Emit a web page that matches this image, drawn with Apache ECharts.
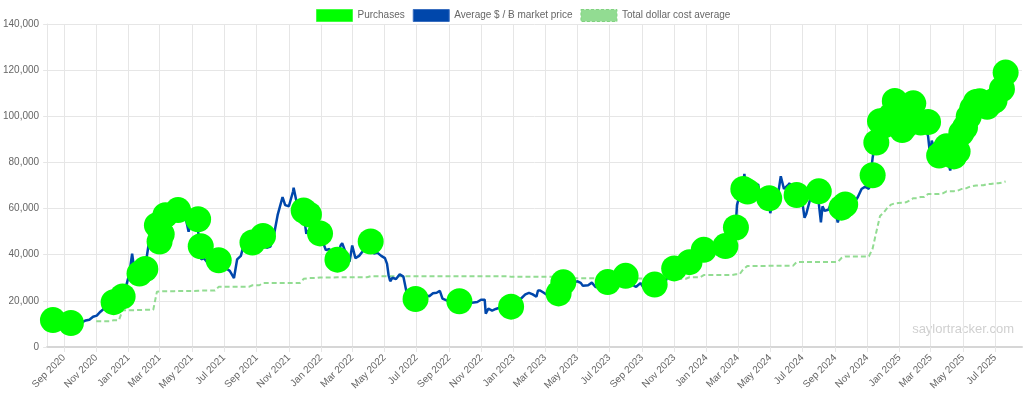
<!DOCTYPE html>
<html>
<head>
<meta charset="utf-8">
<script src="https://cdn.jsdelivr.net/npm/echarts@6/dist/echarts.min.js"></script>
<style>
  html, body { margin: 0; padding: 0; background: #fff; }
  #chart { width: 1024px; height: 398px; }
</style>
</head>
<body>
<div id="chart"></div>
<script>
// x axis ticks, every two months
var tickMonths = ['2020-09-01','2020-11-01','2021-01-01','2021-03-01','2021-05-01','2021-07-01','2021-09-01','2021-11-01',
  '2022-01-01','2022-03-01','2022-05-01','2022-07-01','2022-09-01','2022-11-01','2023-01-01','2023-03-01','2023-05-01',
  '2023-07-01','2023-09-01','2023-11-01','2024-01-01','2024-03-01','2024-05-01','2024-07-01','2024-09-01','2024-11-01',
  '2025-01-01','2025-03-01','2025-05-01','2025-07-01'];

// purchases (date, average price paid)
var purchaseDates = ['2020-08-11','2020-09-14','2020-12-04','2020-12-21','2021-01-22','2021-02-02','2021-02-24','2021-03-01',
  '2021-03-05','2021-03-12','2021-04-05','2021-05-13','2021-05-18','2021-06-21','2021-08-24','2021-09-13','2021-11-29',
  '2021-12-09','2021-12-30','2022-02-01','2022-04-05','2022-06-29','2022-09-20','2022-12-27','2023-03-27','2023-04-05',
  '2023-06-28','2023-08-01','2023-09-25','2023-11-01','2023-11-30','2023-12-27','2024-02-06','2024-02-26','2024-03-11',
  '2024-03-19','2024-04-29','2024-06-20','2024-08-01','2024-09-13','2024-09-20','2024-11-11','2024-11-18','2024-11-25',
  '2024-12-02','2024-12-09','2024-12-16','2024-12-23','2024-12-30','2025-01-06','2025-01-13','2025-01-21','2025-01-27',
  '2025-02-10','2025-02-24','2025-03-17','2025-03-24','2025-03-31','2025-04-14','2025-04-21','2025-04-28','2025-05-05',
  '2025-05-12','2025-05-19','2025-05-26','2025-06-02','2025-06-09','2025-06-16','2025-06-23','2025-06-30','2025-07-14',
  '2025-07-21'];
var purchasePrices = [11652,10419,19427,21925,31808,33808,52765,45710,
  48888,57146,59339,55387,43663,37617,45294,48099,59187,
  57477,49229,37865,45714,20817,19851,17500,23238,28016,
  28136,30835,27053,34074,36785,42110,43723,51813,68477,
  67382,64500,65883,67455,60408,61750,74463,88627,97862,
  95976,98783,100386,106662,97837,94004,95972,101191,105596,
  97255,97514,82981,84529,86969,82618,84785,92737,95167,
  99856,103498,106237,106495,105426,104080,105856,106801,111827,
  118940];

// total dollar cost average (changes at each purchase)
var costDates = ['2020-11-01','2020-12-04','2020-12-21','2021-01-22','2021-02-02','2021-02-24','2021-03-01','2021-03-05',
  '2021-03-12','2021-04-05','2021-05-13','2021-05-18','2021-06-21','2021-08-24','2021-09-13','2021-11-29','2021-12-09',
  '2021-12-30','2022-02-01','2022-04-05','2022-06-29','2022-09-20','2022-12-28','2023-03-27','2023-04-05','2023-06-28',
  '2023-08-01','2023-09-25','2023-11-01','2023-11-30','2023-12-27','2024-02-06','2024-02-26','2024-03-11','2024-03-19',
  '2024-04-29','2024-06-20','2024-08-01','2024-09-13','2024-09-20','2024-11-11','2024-11-18','2024-11-25','2024-12-02',
  '2024-12-09','2024-12-16','2024-12-23','2024-12-30','2025-01-06','2025-01-13','2025-01-21','2025-01-27','2025-02-10',
  '2025-02-24','2025-03-17','2025-03-24','2025-03-31','2025-04-14','2025-04-21','2025-04-28','2025-05-05','2025-05-12',
  '2025-05-19','2025-05-26','2025-06-02','2025-06-09','2025-06-16','2025-06-23','2025-06-30','2025-07-14','2025-07-21'];
var costValues = [11111,11624,15964,16035,16109,23985,24063,24119,
  24214,24311,24403,24450,26080,26769,27713,29534,29861,
  30159,30200,30700,30664,30639,30397,29817,29803,29668,
  29672,29582,29586,30252,31168,31224,31544,33706,35160,
  35180,36798,36821,38585,39266,42692,49874,56761,58263,
  60324,61725,62257,62428,62503,62691,63610,64511,65033,
  66357,66360,66608,67458,67556,67766,68459,68550,69287,
  69726,70023,70055,70086,70666,70681,70982,71268,71756];

// average market price
var price2020 = [['2020-08-11',11400],['2020-08-17',12000],['2020-08-24',11700],['2020-08-31',11900],['2020-09-04',10400],
  ['2020-09-14',10700],['2020-09-21',10500],['2020-09-28',10800],['2020-10-05',10700],['2020-10-12',11500],['2020-10-19',11800],
  ['2020-10-26',13100],['2020-11-02',13600],['2020-11-09',15300],['2020-11-16',16700],['2020-11-23',18400],['2020-11-26',17100],
  ['2020-11-30',18800],['2020-12-07',19100],['2020-12-14',19300],['2020-12-17',22800],['2020-12-21',23500],['2020-12-28',26700]];
var price2021 = [['2021-01-03',32000],['2021-01-08',40500],['2021-01-11',35500],['2021-01-18',36500],['2021-01-22',31500],
  ['2021-01-25',32400],['2021-02-01',33500],['2021-02-08',44000],['2021-02-15',48500],['2021-02-21',57000],['2021-02-24',49500],
  ['2021-03-01',47000],['2021-03-08',51500],['2021-03-13',60500],['2021-03-15',56000],['2021-03-22',55500],['2021-03-29',58000],
  ['2021-04-05',58500],['2021-04-13',63500],['2021-04-19',56500],['2021-04-25',50000],['2021-05-03',57500],['2021-05-10',57000],
  ['2021-05-13',50000],['2021-05-17',44000],['2021-05-19',38000],['2021-05-24',38500],['2021-05-31',36500],['2021-06-07',35800],
  ['2021-06-14',40000],['2021-06-21',33000],['2021-06-28',34500],['2021-07-05',34000],['2021-07-12',33000],['2021-07-20',29900],
  ['2021-07-26',38000],['2021-08-02',39500],['2021-08-09',45500],['2021-08-16',46000],['2021-08-23',49500],['2021-08-30',47500],
  ['2021-09-06',52500],['2021-09-07',46500],['2021-09-13',45500],['2021-09-20',43000],['2021-09-27',43500],['2021-10-04',49000],
  ['2021-10-11',57500],['2021-10-20',65000],['2021-10-25',61500],['2021-11-01',61000],['2021-11-09',67500],['2021-11-10',69000],
  ['2021-11-15',63500],['2021-11-22',57000],['2021-11-29',57800],['2021-12-04',49000],['2021-12-06',50500],['2021-12-13',48000],
  ['2021-12-20',47000],['2021-12-27',50500]];
var price2022 = [['2022-01-03',46500],['2022-01-10',42000],['2022-01-17',42500],['2022-01-22',35500],['2022-01-24',36500],
  ['2022-01-31',38000],['2022-02-07',44000],['2022-02-10',45000],['2022-02-14',42500],['2022-02-21',38000],['2022-02-24',37000],
  ['2022-03-01',44000],['2022-03-07',38500],['2022-03-14',39500],['2022-03-21',41500],['2022-03-28',47200],['2022-04-04',46200],
  ['2022-04-11',40500],['2022-04-18',40800],['2022-04-25',39500],['2022-05-02',38500],['2022-05-06',36000],['2022-05-09',31000],
  ['2022-05-12',28500],['2022-05-16',30000],['2022-05-23',29500],['2022-05-30',31500],['2022-06-06',30500],['2022-06-13',22500],
  ['2022-06-18',19000],['2022-06-20',20500],['2022-06-27',20700],['2022-07-04',19500],['2022-07-11',20000],['2022-07-18',22500],
  ['2022-07-25',22000],['2022-08-01',23300],['2022-08-08',23500],['2022-08-14',24300],['2022-08-19',21000],['2022-08-22',21400],
  ['2022-08-29',20000],['2022-09-06',18800],['2022-09-12',22300],['2022-09-19',19500],['2022-09-26',19000],['2022-10-03',19600],
  ['2022-10-10',19100],['2022-10-17',19300],['2022-10-24',19500],['2022-10-31',20500],['2022-11-07',20500],['2022-11-09',14500],
  ['2022-11-14',16600],['2022-11-21',15800],['2022-11-28',16500],['2022-12-05',17000],['2022-12-12',17200],['2022-12-19',16800],
  ['2022-12-26',16700]];
var price2023 = [['2023-01-02',16700],['2023-01-09',17200],['2023-01-14',20800],['2023-01-16',21000],['2023-01-23',22800],
  ['2023-01-30',23500],['2023-02-06',22800],['2023-02-13',21800],['2023-02-16',24500],['2023-02-20',24500],['2023-02-27',23500],
  ['2023-03-06',22400],['2023-03-10',20000],['2023-03-13',24200],['2023-03-20',28000],['2023-03-27',27500],['2023-04-03',28200],
  ['2023-04-11',30200],['2023-04-14',30500],['2023-04-17',29500],['2023-04-21',27300],['2023-04-24',27500],['2023-05-01',28500],
  ['2023-05-08',27800],['2023-05-12',26500],['2023-05-15',27000],['2023-05-22',26800],['2023-05-29',27900],['2023-06-05',26000],
  ['2023-06-12',25900],['2023-06-15',25000],['2023-06-19',26800],['2023-06-23',30500],['2023-06-26',30300],['2023-07-03',30800],
  ['2023-07-10',30300],['2023-07-13',31200],['2023-07-17',30200],['2023-07-24',29300],['2023-07-31',29300],['2023-08-07',29100],
  ['2023-08-14',29300],['2023-08-17',26500],['2023-08-21',26100],['2023-08-29',27700],['2023-09-04',25800],['2023-09-11',25200],
  ['2023-09-18',26800],['2023-09-25',26300],['2023-10-02',27700],['2023-10-09',27600],['2023-10-16',28500],['2023-10-23',33000],
  ['2023-10-30',34500],['2023-11-06',35000],['2023-11-13',36800],['2023-11-20',37500],['2023-11-27',37300],['2023-12-04',41500],
  ['2023-12-11',41500],['2023-12-18',42500],['2023-12-25',43500]];
var price2024 = [['2024-01-01',44000],['2024-01-08',46000],['2024-01-11',46500],['2024-01-15',42500],['2024-01-22',40000],
  ['2024-01-29',43000],['2024-02-05',42700],['2024-02-12',49500],['2024-02-19',51800],['2024-02-26',54000],['2024-02-28',61500],
  ['2024-03-04',66000],['2024-03-05',64000],['2024-03-11',71500],['2024-03-13',75000],['2024-03-19',63000],['2024-03-25',69500],
  ['2024-04-01',70000],['2024-04-08',70500],['2024-04-13',64500],['2024-04-15',63500],['2024-04-22',66000],['2024-04-29',63500],
  ['2024-05-01',58000],['2024-05-06',63500],['2024-05-13',62000],['2024-05-21',74000],['2024-05-27',68500],['2024-06-03',70000],
  ['2024-06-07',71000],['2024-06-10',67000],['2024-06-17',65500],['2024-06-24',61000],['2024-07-01',62500],['2024-07-05',56000],
  ['2024-07-08',57500],['2024-07-15',63500],['2024-07-22',67500],['2024-07-29',68500],['2024-08-05',54000],['2024-08-08',61000],
  ['2024-08-12',59000],['2024-08-19',59500],['2024-08-26',63000],['2024-09-02',58000],['2024-09-06',54000],['2024-09-09',56500],
  ['2024-09-16',58500],['2024-09-23',63500],['2024-09-30',63500],['2024-10-07',62500],['2024-10-14',65000],['2024-10-21',68500],
  ['2024-10-28',69500],['2024-11-04',68500],['2024-11-11',82000],['2024-11-18',91000],['2024-11-22',98500],['2024-11-25',95000],
  ['2024-12-02',96500],['2024-12-05',100500],['2024-12-09',98500],['2024-12-16',105500],['2024-12-20',97000],['2024-12-23',95500],
  ['2024-12-30',93500]];
var price2025 = [['2025-01-06',98500],['2025-01-09',92500],['2025-01-13',94500],['2025-01-16',100000],['2025-01-20',106000],
  ['2025-01-22',104000],['2025-01-27',101500],['2025-02-03',98000],['2025-02-10',97000],['2025-02-17',96000],['2025-02-24',91500],
  ['2025-02-28',83000],['2025-03-03',89500],['2025-03-05',88000],['2025-03-10',80000],['2025-03-17',83500],['2025-03-24',87500],
  ['2025-03-31',83000],['2025-04-07',76500],['2025-04-09',79500],['2025-04-14',84500],['2025-04-21',87500],['2025-04-25',94500],
  ['2025-04-28',94800],['2025-05-05',94500],['2025-05-09',103000],['2025-05-12',104000],['2025-05-19',105500],['2025-05-22',111000],
  ['2025-05-26',109000],['2025-06-02',105000],['2025-06-09',107500],['2025-06-16',106000],['2025-06-22',101000],['2025-06-30',107500],
  ['2025-07-07',108500],['2025-07-11',117500],['2025-07-14',120000],['2025-07-21',118500]];

var seriesNames = ['Purchases', 'Average $ / Ƀ market price', 'Total dollar cost average'];
var fontFam = 'Liberation Sans, Arial, DejaVu Sans, sans-serif';
var gridColor = '#e6e6e6';

// dates -> timestamps (the x axis is a linear value axis in ms)
function ts(d) { return echarts.time.parse(d).getTime(); }

var priceData = [].concat(price2020, price2021, price2022, price2023, price2024, price2025)
  .map(function (p) { return [ts(p[0]), p[1]]; });
var purchaseData = purchaseDates.map(function (d, i) { return [ts(d), purchasePrices[i]]; });

// hold the previous average until a week before each purchase
var costData = [];
for (var i = 0; i < costDates.length; i++) {
  if (i > 0) {
    var hold = ts(costDates[i]) - 7 * 86400000;
    if (hold > ts(costDates[i - 1])) costData.push([hold, costValues[i - 1]]);
  }
  costData.push([ts(costDates[i]), costValues[i]]);
}
var tickValues = tickMonths.map(ts);

var myChart = echarts.init(document.getElementById('chart'));
var option = {
  animation: false,
  textStyle: { fontFamily: fontFam },
  legend: {
    top: 4,
    left: 311,
    itemWidth: 36,
    itemHeight: 12,
    itemGap: 8,
    icon: 'rect',
    textStyle: { color: '#666', fontSize: 10, fontFamily: fontFam },
    data: [
      { name: seriesNames[0], itemStyle: { color: '#00ff00', borderColor: '#40ff40', borderWidth: 1 } },
      { name: seriesNames[1], itemStyle: { color: '#0047ab', borderColor: '#3a6fc0', borderWidth: 1 } },
      { name: seriesNames[2], itemStyle: { color: '#92dc92', borderColor: '#7fd27f', borderWidth: 1, borderType: [3, 2] } }
    ]
  },
  grid: { left: 44, right: 2, top: 24, bottom: 51 },
  xAxis: {
    type: 'value',
    min: ts('2020-07-31'),
    max: ts('2025-08-21'),
    axisLine: { show: true, lineStyle: { color: '#d6d6d6', width: 2 } },
    axisTick: { show: true, length: 5, customValues: tickValues, lineStyle: { color: gridColor } },
    splitLine: { show: true, lineStyle: { color: gridColor } },
    axisLabel: {
      customValues: tickValues,
      rotate: 45,
      margin: 9,
      color: '#666',
      fontSize: 10,
      fontFamily: fontFam,
      formatter: function (v) { return echarts.time.format(v, '{MMM} {yyyy}', false); }
    }
  },
  yAxis: {
    type: 'value',
    min: 0,
    max: 140000,
    interval: 20000,
    axisLine: { show: true, lineStyle: { color: gridColor } },
    axisTick: { show: true, length: 4, lineStyle: { color: gridColor } },
    splitLine: { lineStyle: { color: gridColor } },
    axisLabel: { color: '#666', fontSize: 10, margin: 8, fontFamily: fontFam }
  },
  graphic: [{
    type: 'text',
    right: 10,
    top: 323,
    style: { text: 'saylortracker.com', fill: '#d0d0d0', font: '13px ' + fontFam }
  }],
  series: [
    {
      name: seriesNames[2],
      type: 'line',
      data: costData,
      showSymbol: false,
      itemStyle: { color: '#92dc92' },
      lineStyle: { color: '#92dc92', width: 2, type: [5, 3] },
      z: 1
    },
    {
      name: seriesNames[1],
      type: 'line',
      data: priceData,
      showSymbol: false,
      itemStyle: { color: '#0047ab' },
      lineStyle: { color: '#0047ab', width: 2.5 },
      z: 2
    },
    {
      name: seriesNames[0],
      type: 'scatter',
      data: purchaseData,
      symbol: 'circle',
      symbolSize: 26,
      itemStyle: { color: '#00ff00', opacity: 1 },
      z: 3
    }
  ]
};
myChart.setOption(option);
</script>
</body>
</html>
